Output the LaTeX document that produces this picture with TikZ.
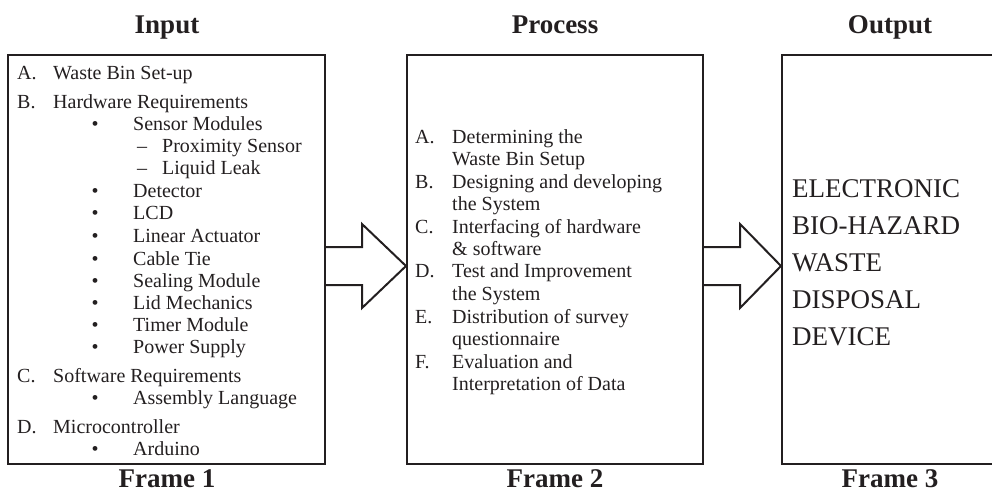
\documentclass[tikz,border=0pt]{standalone}
\usepackage{fontspec}
\setmainfont{Liberation Serif}
\usetikzlibrary{calc}
\definecolor{ink}{RGB}{35,31,32}
\begin{document}
\begin{tikzpicture}[x=1pt,y=-1pt,
  box/.style={draw=ink,line width=2.2pt,inner sep=0pt,outer sep=0pt},
  blockarrow/.style={draw=ink,line width=2pt,line join=miter},
  title/.style={anchor=base,inner sep=0pt,text=ink,font=\fontsize{27}{30}\selectfont\bfseries},
  item/.style={anchor=base west,inner sep=0pt,text=ink,font=\fontsize{20}{22}\selectfont},
  bul/.style={anchor=base,inner sep=0pt,text=ink,font=\fontsize{20}{22}\selectfont},
  big/.style={anchor=base west,inner sep=0pt,text=ink,font=\fontsize{27}{32}\selectfont}]
\useasboundingbox (0,0) rectangle (992,493);
% boxes
\node[box,minimum width=317pt,minimum height=409pt] (b1) at (166.5,259.5) {};
\node[box,minimum width=296pt,minimum height=409pt] (b2) at (555,259.5) {};
\node[box,minimum width=222pt,minimum height=409pt] (b3) at (893,259.5) {};
% titles
\node[title] (tin) at (167,33) {Input};
\node[title] (tpr) at (555,33) {Process};
\node[title] (tou) at (890,33) {Output};
\node[title] (f1) at (167,487.5) {Frame 1};
\node[title] (f2) at (555,487.5) {Frame 2};
\node[title] (f3) at (890,487.5) {Frame 3};
% block arrows
\coordinate (t1) at ($(b1.east)+(0,6.5)$);
\coordinate (h1) at ($(b2.west)+(-1,6.5)$);
\draw[blockarrow] ($(t1)+(0,-19)$) -- ++(37,0) -- ++(0,-23) -- (h1)
  -- ($(t1)+(37,42)$) -- ++(0,-23) -- ($(t1)+(0,19)$);
\coordinate (t2) at ($(b2.east)+(0,6.5)$);
\coordinate (h2) at ($(b3.west)+(-1,6.5)$);
\draw[blockarrow] ($(t2)+(0,-19)$) -- ++(37,0) -- ++(0,-23) -- (h2)
  -- ($(t2)+(37,42)$) -- ++(0,-23) -- ($(t2)+(0,19)$);
% input list: letters
\foreach \y/\t [count=\k] in {79/A., 108/B., 382/C., 433/D.}
  \node[item] (il\k) at (17,\y) {\t};
\foreach \y/\t [count=\k] in {79/Waste Bin Set-up, 108/Hardware Requirements, 382/Software Requirements, 433/Microcontroller}
  \node[item] (it\k) at (53,\y) {\t};
% bullets
\foreach \y/\t [count=\k] in {130/Sensor Modules, 197/Detector, 219/LCD, 242/Linear Actuator, 265/Cable Tie, 287/Sealing Module, 309/Lid Mechanics, 331/Timer Module, 353/Power Supply, 404/Assembly Language, 455/Arduino}{
  \node[bul] (ib\k) at (95,\y) {•};
  \node[item] (ibt\k) at (133,\y) {\t};
}
% dashes
\foreach \y/\t [count=\k] in {152/Proximity Sensor, 174/Liquid Leak}{
  \node[item] (id\k) at (137,\y) {–};
  \node[item] (idt\k) at (162,\y) {\t};
}
% process list
\foreach \y/\t [count=\k] in {143/A., 188/B., 233/C., 277/D., 323/E., 368/F.}
  \node[item] (pl\k) at (415,\y) {\t};
\foreach \y/\t [count=\k] in {143/Determining the, 165/Waste Bin Setup, 188/Designing and developing, 210/the System, 233/Interfacing of hardware, 255/\& software, 277/Test and Improvement, 300/the System, 323/Distribution of survey, 345/questionnaire, 368/Evaluation and, 390/Interpretation of Data}
  \node[item] (pt\k) at (452,\y) {\t};
% output
\foreach \y/\t [count=\k] in {197/ELECTRONIC, 234/BIO-HAZARD, 271/WASTE, 308/DISPOSAL, 345/DEVICE}
  \node[big] (o\k) at (792,\y) {\t};
\end{tikzpicture}
\end{document}
